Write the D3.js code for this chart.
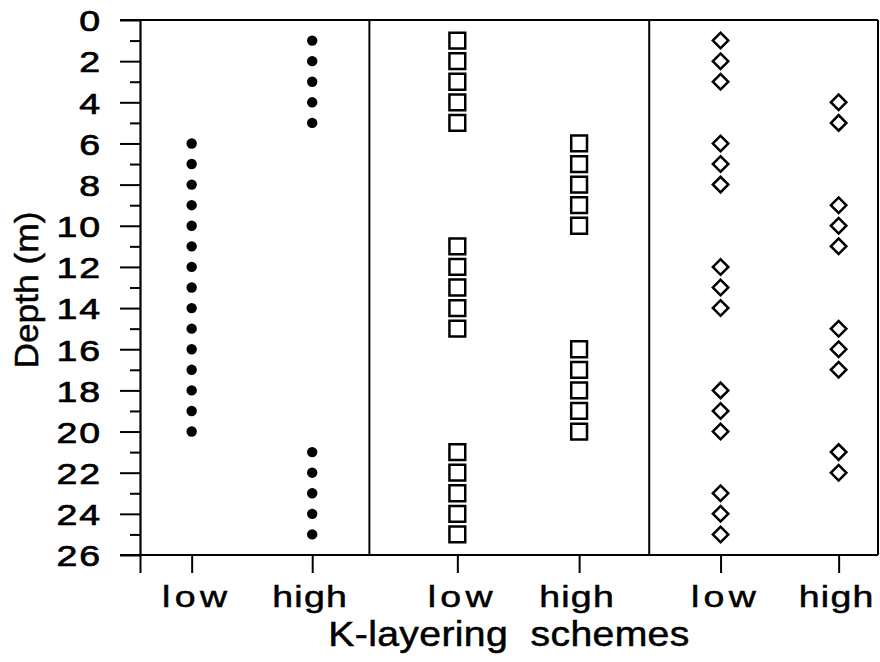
<!DOCTYPE html>
<html><head><meta charset="utf-8">
<script src="https://cdn.jsdelivr.net/npm/d3@7"></script>
<style>
body{margin:0;background:#fff;}
svg{display:block;font-family:"Liberation Sans",Arial,sans-serif;}
text{white-space:pre;}
</style></head>
<body>
<svg id="chart" width="880" height="662"></svg>
<script>
// ---- data ----
const depthTicks = d3.range(0, 27, 2);            // labelled depth ticks
const depthMinor = d3.range(1, 26, 2);            // unlabelled depth ticks
const categoryLabels = ["low", "high", "low", "high", "low", "high"];
const categoryPos = [0.42, 1.40, 2.58, 3.57, 4.72, 5.68]; // positions on scheme axis
const panelDividers = [1.865, 4.14];
// Scheme 1 (filled circles)
const s1Low  = [6,7,8,9,10,11,12,13,14,15,16,17,18,19,20];
const s1High = [1,2,3,4,5,21,22,23,24,25];
// Scheme 2 (open squares)
const s2Low  = [1,2,3,4,5,11,12,13,14,15,21,22,23,24,25];
const s2High = [6,7,8,9,10,16,17,18,19,20];
// Scheme 3 (open diamonds)
const s3Low  = [1,2,3,6,7,8,12,13,14,18,19,20,23,24,25];
const s3High = [4,5,9,10,11,15,16,17,21,22];

const svg = d3.select("#chart");
const L = 140, R = 878, T = 20, B = 555;
const y = d3.scaleLinear().domain([0, 26]).range([T, B]);
const x = d3.scaleLinear().domain([0, 6]).range([L, R]);
const SX = 1.25; // horizontal stretch of the typeface
const TS = 0.5;  // text stroke to thicken glyphs

// minor y ticks
svg.append("g").attr("transform", `translate(${L},0)`)
  .call(d3.axisLeft(y).tickValues(depthMinor).tickSize(10).tickSizeOuter(0).tickFormat(""))
  .call(g => g.select(".domain").remove())
  .selectAll("line").attr("stroke-width", 2);
// major y ticks
const ya = svg.append("g").attr("transform", `translate(${L},0)`)
  .call(d3.axisLeft(y).tickValues(depthTicks).tickSize(20).tickSizeOuter(0).tickPadding(17));
ya.select(".domain").attr("stroke-width", 2.2);
ya.selectAll("line").attr("stroke-width", 2);
ya.selectAll("text")
  .attr("x", null).attr("dy", "0.36em")
  .attr("transform", "translate(-38,0) scale(" + SX + ",1)")
  .attr("font-size", 30).attr("fill", "#000")
  .attr("stroke", "#000").attr("stroke-width", TS + 0.2)
  .attr("font-family", "Liberation Sans, Arial, sans-serif")
  .attr("letter-spacing", 1.5);

// x ticks
const xa = svg.append("g").attr("transform", `translate(0,${B})`)
  .call(d3.axisBottom(x).tickValues([0].concat(categoryPos)).tickSize(18).tickSizeOuter(0).tickFormat(""));
xa.select(".domain").remove();
xa.selectAll("line").attr("stroke-width", 2);

// frame lines
svg.append("line").attr("x1", 120).attr("x2", R).attr("y1", y(0)).attr("y2", y(0)).attr("stroke", "#000").attr("stroke-width", 2.2);
svg.append("line").attr("x1", 120).attr("x2", R).attr("y1", y(26)).attr("y2", y(26)).attr("stroke", "#000").attr("stroke-width", 2.2);
svg.append("line").attr("x1", R).attr("x2", R).attr("y1", y(0)).attr("y2", y(26)).attr("stroke", "#000").attr("stroke-width", 2);
svg.selectAll(".div").data(panelDividers).join("line")
  .attr("x1", d => x(d)).attr("x2", d => x(d)).attr("y1", y(0)).attr("y2", y(26))
  .attr("stroke", "#000").attr("stroke-width", 2);

// category labels
svg.selectAll(".cat").data(categoryLabels).join("text")
  .attr("transform", (d, i) => `translate(${x(categoryPos[i]) + (d === "low" ? 5 : -2)},607) scale(${SX},1)`)
  .attr("text-anchor", "middle").attr("font-size", 30)
  .attr("stroke", "#000").attr("stroke-width", TS)
  .attr("letter-spacing", d => d === "low" ? 3.5 : 1)
  .text(d => d);

// axis titles
svg.append("text").attr("transform", `translate(509,646) scale(1.12,1)`)
  .attr("text-anchor", "middle").attr("font-size", 35).attr("letter-spacing", 0.3)
  .attr("stroke", "#000").attr("stroke-width", TS)
  .text("K-layering  schemes");
svg.append("text").attr("transform", `translate(38,290) rotate(-90) scale(1.04,1)`)
  .attr("text-anchor", "middle").attr("font-size", 34)
  .attr("stroke", "#000").attr("stroke-width", TS)
  .text("Depth (m)");

// markers
const circ = svg.append("g");
[[s1Low, 0], [s1High, 1]].forEach(([arr, ci]) => {
  circ.selectAll(null).data(arr).join("circle")
    .attr("cx", x(categoryPos[ci])).attr("cy", d => y(d)).attr("r", 5.2).attr("fill", "#000");
});
const sq = d3.symbol(d3.symbolSquare, 250);
[[s2Low, 2], [s2High, 3]].forEach(([arr, ci]) => {
  svg.append("g").selectAll("path").data(arr).join("path")
    .attr("d", sq).attr("transform", d => `translate(${x(categoryPos[ci])},${y(d)})`)
    .attr("fill", "#fff").attr("stroke", "#000").attr("stroke-width", 2.5);
});
const dm = d3.symbol(d3.symbolSquare, 120);
[[s3Low, 4], [s3High, 5]].forEach(([arr, ci]) => {
  svg.append("g").selectAll("path").data(arr).join("path")
    .attr("d", dm).attr("transform", d => `translate(${x(categoryPos[ci])},${y(d)}) rotate(45)`)
    .attr("fill", "#fff").attr("stroke", "#000").attr("stroke-width", 2.5);
});
</script>
</body></html>
